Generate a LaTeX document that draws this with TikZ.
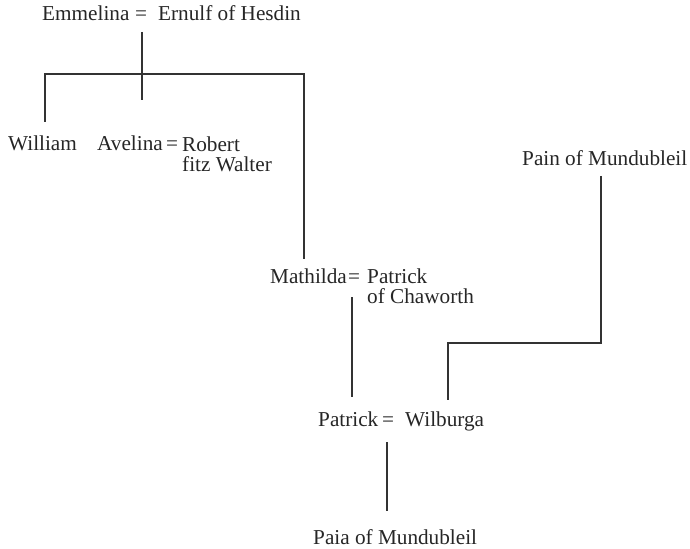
\documentclass[tikz,border=0pt]{standalone}
\usepackage{fontspec}
\setmainfont{Liberation Serif}
\begin{document}
\begin{tikzpicture}[x=1bp,y=-1bp,
  person/.style={anchor=base west,inner sep=0pt,font=\fontsize{21.3}{20.5}\selectfont,text=black!85},
  line/.style={line width=1.3bp,draw=black!80}]
\useasboundingbox (0,0) rectangle (690,549);
% people
\node[person] (emm) at (42,21) {Emmelina};
\node[person] (eq1) at (135,21) {=};
\node[person] (ern) at (158,21) {Ernulf of Hesdin};
\node[person] (wil) at (8,151) {William};
\node[person] (ave) at (97,151) {Avelina};
\node[person] (eq2) at (166,151) {=};
\node[person,align=left] (rob) at (182,171.5) {Robert\\fitz Walter};
\node[person] (mat) at (270,283) {Mathilda};
\node[person] (eq3) at (348,283) {=};
\node[person,align=left] (pat) at (367,303.5) {Patrick\\of Chaworth};
\node[person] (pain) at (522,166) {Pain of Mundubleil};
\node[person] (pat2) at (318,426) {Patrick};
\node[person] (eq4) at (382,426) {=};
\node[person] (wilb) at (405,426) {Wilburga};
\node[person] (paia) at (313,544) {Paia of Mundubleil};
% junctions
\coordinate (j1) at (142,32);
\coordinate (j1b) at (142,100);
\coordinate (h1l) at (45,74);
\coordinate (h1r) at (304,74);
\coordinate (wtop) at (45,122);
\coordinate (mtop) at (304,259);
\coordinate (m1) at (352,297);
\coordinate (m2) at (352,397);
\coordinate (p1) at (601,176);
\coordinate (p2) at (601,343);
\coordinate (w1) at (448,343);
\coordinate (w2) at (448,400);
\coordinate (c1) at (387,442);
\coordinate (c2) at (387,511);
% connectors
\draw[line] (j1) -- (j1b);
\draw[line] (wtop) -- (h1l) -- (h1r) -- (mtop);
\draw[line] (m1) -- (m2);
\draw[line] (p1) -- (p2) -- (w1) -- (w2);
\draw[line] (c1) -- (c2);
\end{tikzpicture}
\end{document}
